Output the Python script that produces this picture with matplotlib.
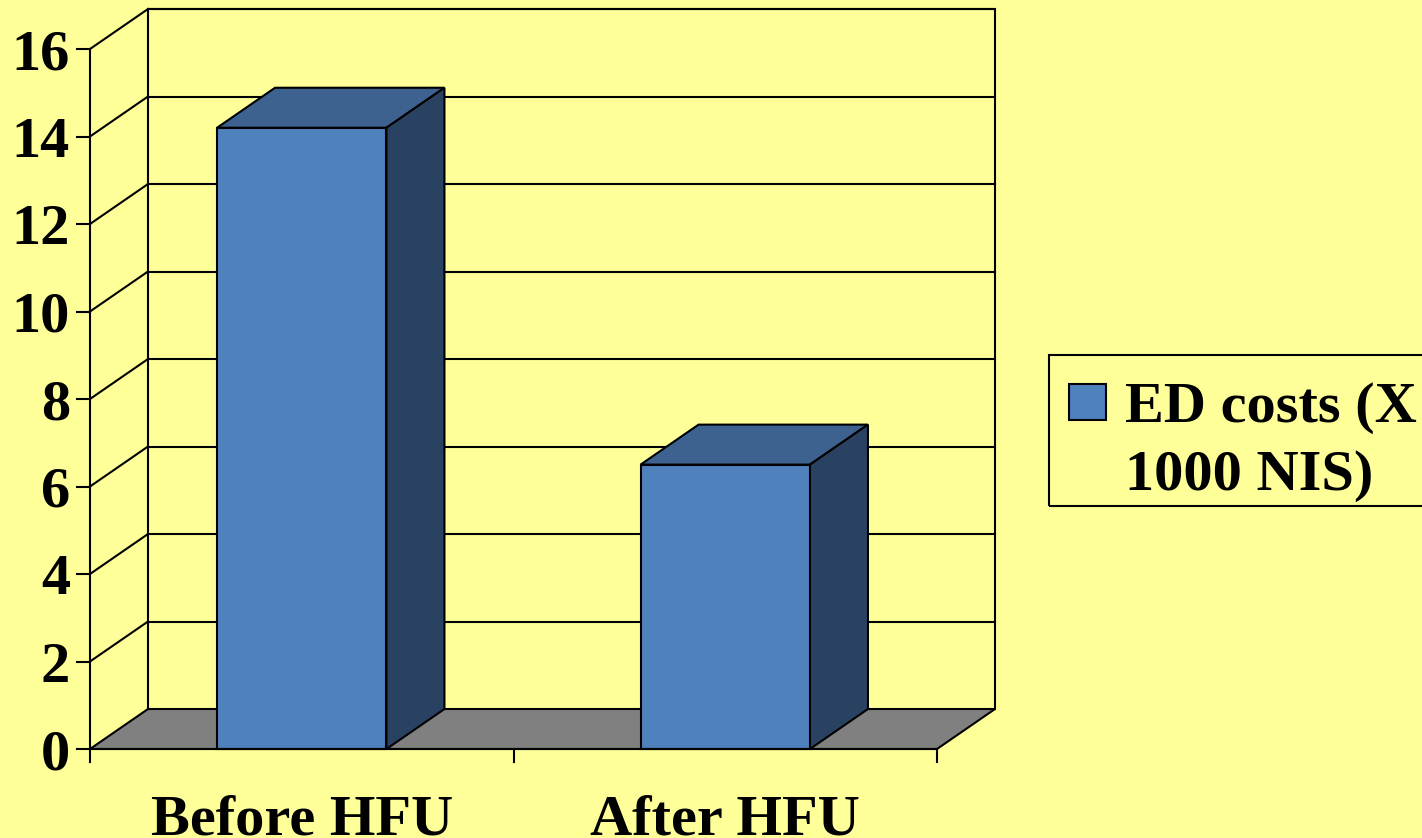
import matplotlib.pyplot as plt
from matplotlib.patches import Polygon, Rectangle

# data
categories = ["Before HFU", "After HFU"]
ed_costs = [14.2, 6.5]
series_name = "ED costs (X\n1000 NIS)"
y_ticks = [0, 2, 4, 6, 8, 10, 12, 14, 16]

bg = "#FFFF99"
front_col = "#4F81BD"
top_col = "#3D6290"
side_col = "#2A4262"
floor_col = "#808080"

plt.rcParams["font.family"] = ["Liberation Serif", "DejaVu Serif"]
plt.rcParams["font.weight"] = "bold"

fig = plt.figure(figsize=(14.22, 8.38), dpi=100, facecolor=bg)
ax = fig.add_axes([0, 0, 1, 1])
ax.set_facecolor(bg)
ax.axis("off")

# x: one unit per category, y: value units
px_x = 423.5   # pixels per category
px_y = 43.75   # pixels per value unit
x0, y0 = 90, 749
ax.set_xlim(-x0 / px_x, (1422 - x0) / px_x)
ax.set_ylim((y0 - 838) / px_y, y0 / px_y)

dx = 58 / px_x   # depth offset
dy = 40 / px_y
ymax = y_ticks[-1]
n = len(categories)
lw = 1.5

# floor
ax.add_patch(Polygon([(0, 0), (n, 0), (n + dx, dy), (dx, dy)], closed=True,
                     facecolor=floor_col, edgecolor="black", lw=lw, zorder=1))
# back wall
ax.plot([dx, dx, n + dx, n + dx], [dy, ymax + dy, ymax + dy, dy], color="black", lw=lw, zorder=1)
# grid on back wall and side wall
for t in y_ticks[1:]:
    ax.plot([dx, n + dx], [t + dy, t + dy], color="black", lw=lw, zorder=1)
    ax.plot([0, dx], [t, t + dy], color="black", lw=lw, zorder=1)
# left axis
ax.plot([0, 0], [0, ymax], color="black", lw=lw, zorder=5)
for t in y_ticks:
    ax.plot([-13 / px_x, 0], [t, t], color="black", lw=lw, zorder=5)
    ax.text(-20 / px_x, t, str(t), ha="right", va="center_baseline", fontsize=42, fontweight="bold")

# bars
bw = 0.4
for i, (cat, v) in enumerate(zip(categories, ed_costs)):
    c = i + 0.5
    l, r = c - bw / 2, c + bw / 2
    ax.add_patch(Polygon([(l, v), (r, v), (r + dx, v + dy), (l + dx, v + dy)], closed=True,
                         facecolor=top_col, edgecolor="black", lw=lw, zorder=3))
    ax.add_patch(Polygon([(r, 0), (r + dx, dy), (r + dx, v + dy), (r, v)], closed=True,
                         facecolor=side_col, edgecolor="black", lw=lw, zorder=3))
    ax.add_patch(Rectangle((l, 0), bw, v, facecolor=front_col, edgecolor="black", lw=lw, zorder=4))
    ax.text(c, -45 / px_y, cat, ha="center", va="top", fontsize=42, fontweight="bold")

# bottom axis
ax.plot([0, n], [0, 0], color="black", lw=lw, zorder=5)
for i in range(n + 1):
    ax.plot([i, i], [0, -13 / px_y], color="black", lw=lw, zorder=5)

# legend (clipped at the right edge)
W, H = 1422, 838
fig.patches.append(Rectangle((1049 / W, 1 - 506 / H), 400 / W, 151 / H, transform=fig.transFigure,
                             facecolor="none", edgecolor="black", lw=lw))
fig.patches.append(Rectangle((1069 / W, 1 - 420 / H), 37 / W, 36 / H, transform=fig.transFigure,
                             facecolor=front_col, edgecolor="black", lw=lw))
fig.text(1125 / W, 1 - 422 / H, series_name.split("\n")[0], ha="left", va="baseline",
         fontsize=42, fontweight="bold")
fig.text(1125 / W, 1 - 490 / H, series_name.split("\n")[1], ha="left", va="baseline",
         fontsize=42, fontweight="bold")

fig.savefig("out.png", dpi=100, facecolor=bg)
